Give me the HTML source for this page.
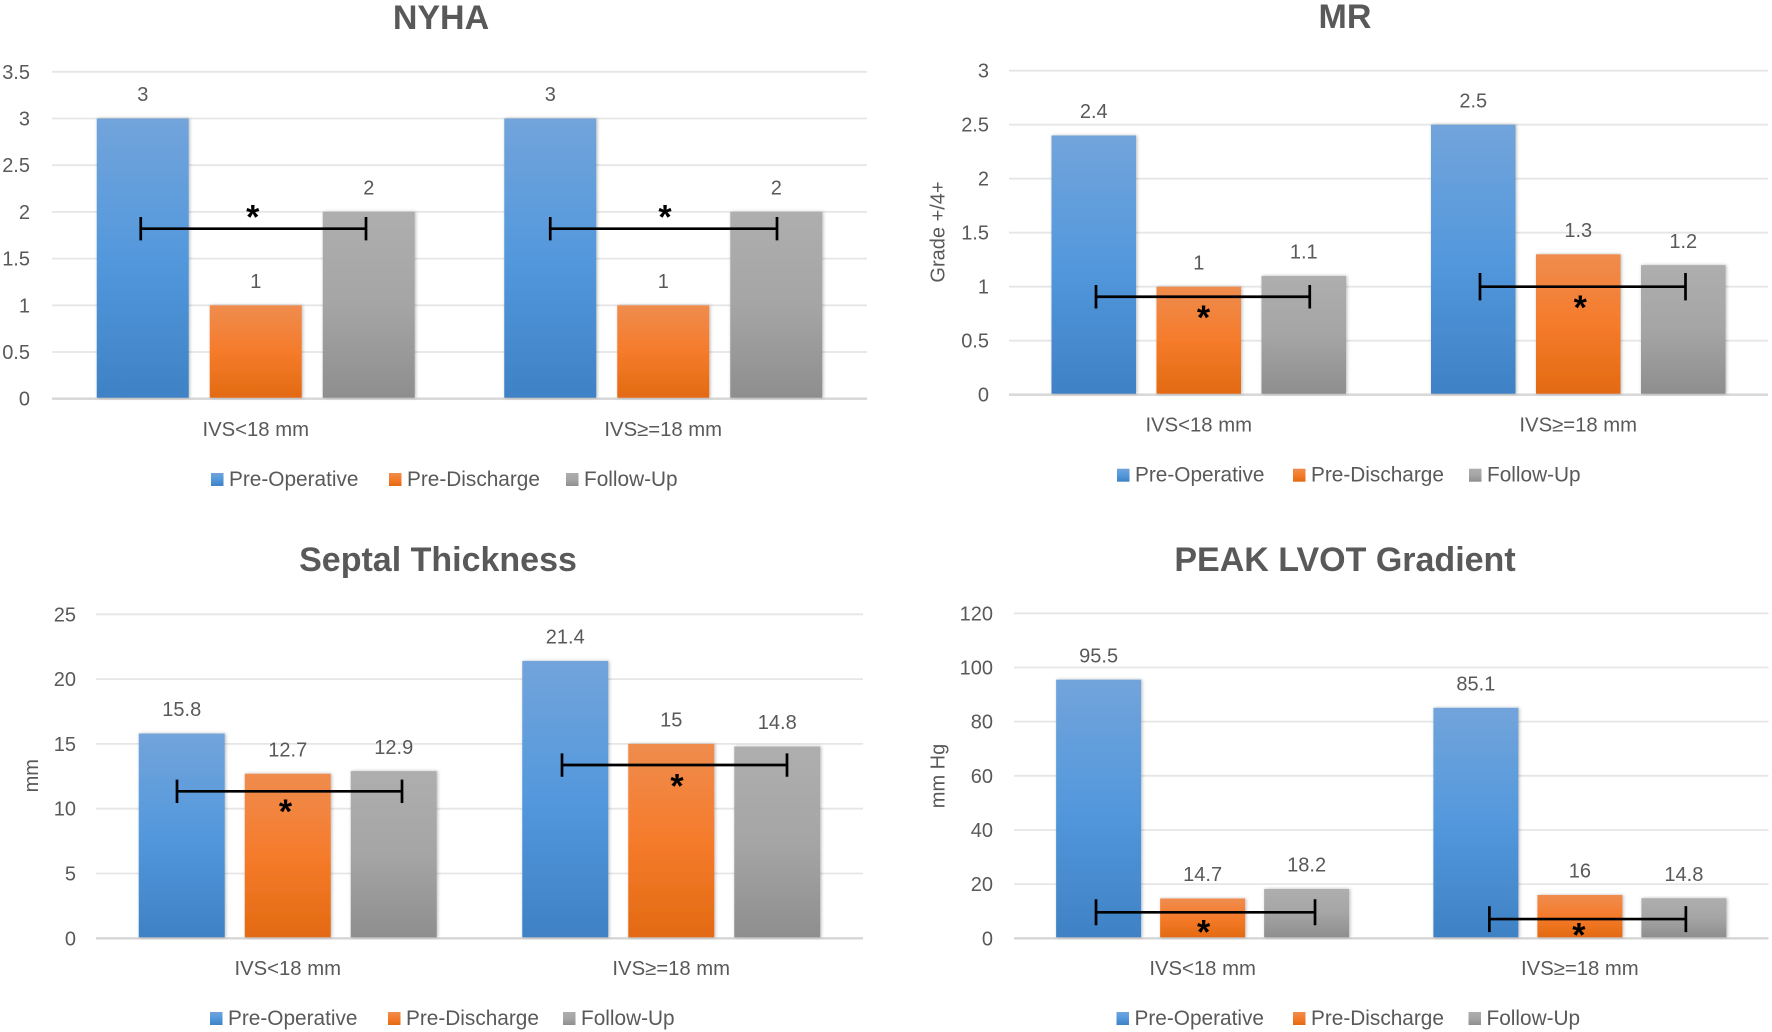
<!DOCTYPE html>
<html lang="en">
<head>
<meta charset="utf-8">
<title>NYHA, MR, Septal Thickness and Peak LVOT Gradient</title>
<style>
html,body{margin:0;padding:0;background:#fff;width:1772px;height:1032px;overflow:hidden}
svg{display:block;filter:blur(0.35px)}
text{font-family:"Liberation Sans",Arial,sans-serif;fill:#595959}
</style>
</head>
<body>
<svg id="figure" xmlns="http://www.w3.org/2000/svg" width="1772" height="1032" viewBox="0 0 1772 1032">
<defs>
<linearGradient id="grad-0" x1="0" y1="0" x2="0" y2="1"><stop offset="0" stop-color="#72a4db"/><stop offset="0.5" stop-color="#5398dc"/><stop offset="1" stop-color="#3f81c5"/></linearGradient>
<linearGradient id="grad-1" x1="0" y1="0" x2="0" y2="1"><stop offset="0" stop-color="#ef8c4e"/><stop offset="0.5" stop-color="#f57b2b"/><stop offset="1" stop-color="#e36a12"/></linearGradient>
<linearGradient id="grad-2" x1="0" y1="0" x2="0" y2="1"><stop offset="0" stop-color="#aeaeae"/><stop offset="0.5" stop-color="#a5a5a5"/><stop offset="1" stop-color="#8e8e8e"/></linearGradient>
<filter id="bar-shadow" x="-15%" y="-5%" width="130%" height="110%"><feDropShadow dx="1" dy="0" stdDeviation="1.6" flood-color="#000" flood-opacity="0.28"/></filter>
</defs>
</svg>
<script>
const categories = ['IVS<18 mm', 'IVS≥=18 mm'];
const seriesNames = ['Pre-Operative', 'Pre-Discharge', 'Follow-Up'];

const nyhaPreOperative = [3, 3];
const nyhaPreDischarge = [1, 1];
const nyhaFollowUp = [2, 2];
const nyhaTicks = [0, 0.5, 1, 1.5, 2, 2.5, 3, 3.5];
const nyhaBracketLevels = [1.82, 1.82];

const mrPreOperative = [2.4, 2.5];
const mrPreDischarge = [1, 1.3];
const mrFollowUp = [1.1, 1.2];
const mrTicks = [0, 0.5, 1, 1.5, 2, 2.5, 3];
const mrBracketLevels = [0.907, 1.0];

const septalPreOperative = [15.8, 21.4];
const septalPreDischarge = [12.7, 15];
const septalFollowUp = [12.9, 14.8];
const septalTicks = [0, 5, 10, 15, 20, 25];
const septalBracketLevels = [11.34, 13.37];

const lvotPreOperative = [95.5, 85.1];
const lvotPreDischarge = [14.7, 16];
const lvotFollowUp = [18.2, 14.8];
const lvotTicks = [0, 20, 40, 60, 80, 100, 120];
const lvotBracketLevels = [9.6, 7.1];

const svgNS = 'http://www.w3.org/2000/svg';
const figure = document.getElementById('figure');

function make(tag, parent) {
  const el = document.createElementNS(svgNS, tag);
  parent.appendChild(el);
  return el;
}
function attrs(el, map) {
  Object.keys(map).forEach(function (k) { el.setAttribute(k, map[k]); });
  return el;
}

function drawChart(c) {
  const g = make('g', figure);
  
  

  const maxTick = c.ticks[c.ticks.length - 1];
  const yScale = function (v) { return c.yBase - (v / maxTick) * (c.yBase - c.yTop); };
  const bandW = (c.x1 - c.x0) / categories.length;
  const xCenter = function (i) { return c.x0 + (i + 0.5) * bandW; };
  const series = [c.s0, c.s1, c.s2];

  const title = make('text', g);
  
  
  attrs(title, {x: c.titleX, y: c.titleY, 'text-anchor': 'middle', 'font-size': 34, 'font-weight': 'bold'});
  title.textContent = c.title;

  c.ticks.forEach(function (t) {
    const grid = make('line', g);
    
    
    attrs(grid, {x1: c.x0, x2: c.x1, y1: yScale(t), y2: yScale(t), stroke: t === 0 ? '#d6d6d6' : '#e6e6e6', 'stroke-width': t === 0 ? 2.4 : 1.8});

    const label = make('text', g);
    
    
    attrs(label, {x: c.tickX, y: yScale(t) + 7, 'text-anchor': 'end', 'font-size': 20});
    label.textContent = String(t);
  });

  if (c.axisTitle) {
    const at = make('text', g);
    
    
    attrs(at, {x: 0, y: 0, 'text-anchor': 'middle', 'font-size': 20, transform: 'translate(' + (c.axisX + 6) + ' ' + c.axisY + ') rotate(-90)'});
    at.textContent = c.axisTitle;
  }

  categories.forEach(function (cat, i) {
    series.forEach(function (vals, s) {
      const cx = xCenter(i) + (s - 1) * c.pitch;
      const top = yScale(vals[i]);
      const bar = make('rect', g);
      
      
      attrs(bar, {x: cx - c.barW / 2, y: top, width: c.barW, height: c.yBase - 1 - top, fill: 'url(#grad-' + s + ')', filter: 'url(#bar-shadow)'});

      const vl = make('text', g);
      
      
      attrs(vl, {x: cx, y: top - 17.3, 'text-anchor': 'middle', 'font-size': 20});
      vl.textContent = String(vals[i]);
    });

    const cl = make('text', g);
    
    
    attrs(cl, {x: xCenter(i), y: c.catY, 'text-anchor': 'middle', 'font-size': 20.3});
    cl.textContent = cat;
  });

  categories.forEach(function (cat, i) {
    const n = c.nudges[i];
    const left = xCenter(i) - c.pitch + n.left;
    const right = xCenter(i) + c.pitch + n.right;
    const y = yScale(c.levels[i]);
    const br = make('path', g);
    
    
    attrs(br, {d: 'M' + left + ' ' + (y - n.half) + 'V' + (y + n.half) + 'M' + left + ' ' + y + 'H' + right + 'M' + right + ' ' + (y - n.half) + 'V' + (y + n.half), stroke: '#000', 'stroke-width': 2.7, fill: 'none'});

    const star = make('text', g);
    
    
    attrs(star, {x: xCenter(i) + n.starX, y: y + n.starY + 17.5, 'text-anchor': 'middle', 'font-size': 34, 'font-weight': 'bold'});
    star.style.fill = '#000';
    star.textContent = '*';
  });

  seriesNames.forEach(function (name, s) {
    const sw = make('rect', g);
    
    
    attrs(sw, {x: c.legendSwatchX[s], y: c.legendY - 13, width: 12.5, height: 13, fill: 'url(#grad-' + s + ')'});

    const lt = make('text', g);
    
    
    attrs(lt, {x: c.legendSwatchX[s] + 18, y: c.legendY, 'font-size': 20.8});
    lt.textContent = name;
  });
}

drawChart({
  slug: 'nyha', title: 'NYHA', titleX: 441, titleY: 29,
  s0: nyhaPreOperative, s1: nyhaPreDischarge, s2: nyhaFollowUp, ticks: nyhaTicks, levels: nyhaBracketLevels,
  x0: 52, x1: 867, yTop: 71.8, yBase: 398.7, tickX: 30, catY: 436, pitch: 113, barW: 92,
  nudges: [
    {left: -2, right: -2.75, half: 11.7, starX: -3, starY: -17.7},
    {left: 0, right: 0.75, half: 11.7, starX: 1.75, starY: -17.7}
  ],
  legendSwatchX: [211, 389, 566], legendY: 486
});

drawChart({
  slug: 'mr', title: 'MR', titleX: 1345, titleY: 28,
  s0: mrPreOperative, s1: mrPreDischarge, s2: mrFollowUp, ticks: mrTicks, levels: mrBracketLevels,
  x0: 1009, x1: 1768, yTop: 70.7, yBase: 394.7, tickX: 989, catY: 431.7, pitch: 105, barW: 84.5,
  axisTitle: 'Grade +/4+', axisX: 938.5, axisY: 232,
  nudges: [
    {left: 2.25, right: 6, half: 11.7, starX: 4.75, starY: 15},
    {left: 6.75, right: 2.25, half: 13.7, starX: 2, starY: 15}
  ],
  legendSwatchX: [1117, 1293, 1469], legendY: 481.7
});

drawChart({
  slug: 'septal', title: 'Septal Thickness', titleX: 438, titleY: 571,
  s0: septalPreOperative, s1: septalPreDischarge, s2: septalFollowUp, ticks: septalTicks, levels: septalBracketLevels,
  x0: 96, x1: 863, yTop: 614.3, yBase: 938.3, tickX: 76, catY: 975, pitch: 106, barW: 86,
  axisTitle: 'mm', axisX: 32, axisY: 775.7,
  nudges: [
    {left: -4.75, right: 8.25, half: 11.7, starX: -2.25, starY: 14},
    {left: -3.25, right: 9.75, half: 11.7, starX: 5.75, starY: 15}
  ],
  legendSwatchX: [210, 388, 563], legendY: 1025
});

drawChart({
  slug: 'lvot', title: 'PEAK LVOT Gradient', titleX: 1345, titleY: 571,
  s0: lvotPreOperative, s1: lvotPreDischarge, s2: lvotFollowUp, ticks: lvotTicks, levels: lvotBracketLevels,
  x0: 1014, x1: 1768.5, yTop: 613.3, yBase: 938.3, tickX: 993, catY: 975, pitch: 104, barW: 85,
  axisTitle: 'mm Hg', axisX: 938.5, axisY: 776,
  nudges: [
    {left: -2.6, right: 8.4, half: 13, starX: 1, starY: 13.7},
    {left: 13.5, right: 2, half: 13, starX: -1, starY: 9.7}
  ],
  legendSwatchX: [1116.5, 1293, 1468.5], legendY: 1025
});
</script>
</body>
</html>
